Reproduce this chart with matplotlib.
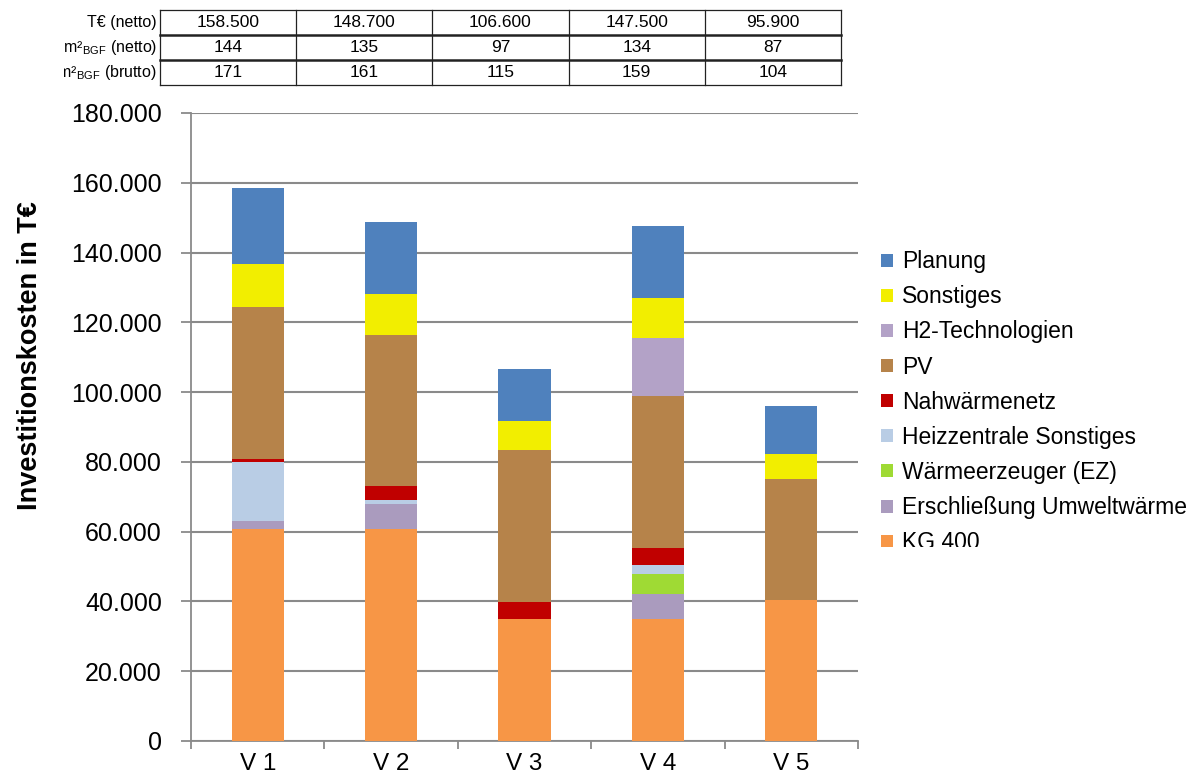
import numpy as np
import matplotlib.pyplot as plt
from matplotlib.patches import Patch, Rectangle
from matplotlib.lines import Line2D
from matplotlib.transforms import Bbox, TransformedBbox
from matplotlib.ticker import FuncFormatter, FixedLocator

plt.rcParams.update({
    'font.family': ['Liberation Sans', 'DejaVu Sans'],
    'mathtext.fontset': 'custom',
    'mathtext.rm': 'Liberation Sans',
    'mathtext.it': 'Liberation Sans:italic',
    'mathtext.bf': 'Liberation Sans:bold',
})

# --- data (T€) ---
variants = ['V 1', 'V 2', 'V 3', 'V 4', 'V 5']
kg400 = [60700, 60700, 35000, 35000, 40300]
erschliessung = [2400, 7300, 0, 7200, 0]
waermeerzeuger = [0, 0, 0, 5700, 0]
heizzentrale = [16900, 1200, 0, 2500, 0]
nahwaerme = [700, 4000, 4800, 5000, 0]
pv = [43600, 43300, 43600, 43500, 34700]
h2 = [0, 0, 0, 16700, 0]
sonstiges = [12400, 11600, 8400, 11500, 7400]
planung = [21800, 20600, 14800, 20400, 13500]

series = [
    ('KG 400', kg400, '#F79646'),
    ('Erschließung Umweltwärme', erschliessung, '#AA9BBE'),
    ('Wärmeerzeuger (EZ)', waermeerzeuger, '#9FDA34'),
    ('Heizzentrale Sonstiges', heizzentrale, '#B9CDE5'),
    ('Nahwärmenetz', nahwaerme, '#C00000'),
    ('PV', pv, '#B6834A'),
    ('H2-Technologien', h2, '#B3A2C7'),
    ('Sonstiges', sonstiges, '#F2EE00'),
    ('Planung', planung, '#4F81BD'),
]

# table above the chart
row_labels = ['T€ (netto)', '€/m²$_{\\mathrm{BGF}}$ (netto)', '€/m²$_{\\mathrm{BGF}}$ (brutto)']
row_total = ['158.500', '148.700', '106.600', '147.500', '95.900']
row_netto = ['144', '135', '97', '134', '87']
row_brutto = ['171', '161', '115', '159', '104']

W, H = 1197, 778
fig = plt.figure(figsize=(W / 100, H / 100), dpi=100)
ax = fig.add_axes([191 / W, 1 - 741 / H, (858 - 191) / W, (741 - 113) / H])

grid_c = '#8a8a8a'
x = np.arange(len(variants))
bottom = np.zeros(len(variants))
handles = []
for name, vals, col in series:
    vals = np.array(vals, dtype=float)
    ax.bar(x, vals, width=0.39, bottom=bottom, color=col, zorder=3)
    bottom += vals
    handles.append(Patch(facecolor=col, label=name))

ax.set_xlim(-0.5, len(variants) - 0.5)
ax.set_ylim(0, 180000)
ax.set_yticks(np.arange(0, 180001, 20000))
ax.yaxis.set_major_formatter(FuncFormatter(lambda v, p: f'{v:,.0f}'.replace(',', '.')))
ax.set_xticks(x)
ax.set_xticklabels(variants)
ax.xaxis.set_minor_locator(FixedLocator(np.arange(-0.5, len(variants), 1.0)))
ax.tick_params(axis='x', which='major', length=0, labelsize=17.5, pad=9)
ax.tick_params(axis='x', which='minor', length=6, width=1.3, color=grid_c)
ax.tick_params(axis='y', length=7, width=1.3, color=grid_c, labelsize=18, pad=14)
ax.grid(axis='y', color=grid_c, linewidth=1.5, zorder=0)
ax.set_axisbelow(True)
for s in ['top', 'right']:
    ax.spines[s].set_visible(False)
for s in ['left', 'bottom']:
    ax.spines[s].set_color(grid_c)
    ax.spines[s].set_linewidth(1.3)

fig.text(30 / W, 1 - 356 / H, 'Investitionskosten in T€', rotation=90,
         fontsize=19.5, fontweight='bold', ha='center', va='center')

# legend (top entry first)
leg = fig.legend(handles=handles[::-1], loc='upper left',
                 bbox_to_anchor=(872 / W, 1 - 241 / H), frameon=False,
                 fontsize=16.5, handlelength=0.5, handleheight=0.5,
                 handletextpad=0.4, labelspacing=0.53, borderaxespad=0)
# legend box clipped at the bottom like in the source
fig.add_artist(Rectangle((862 / W, 0), (W - 862) / W, 1 - 547 / H,
                         transform=fig.transFigure, facecolor='white',
                         edgecolor='none', zorder=10))

# --- table ---
col_edges = np.linspace(160, 841, 6)
row_edges = [10, 35, 60, 85]
rows = [row_total, row_netto, row_brutto]
line_c = '#222222'
for i, yy in enumerate(row_edges):
    lw = 1.8 if i in (1, 2) else 0.9
    fig.add_artist(Line2D([col_edges[0] / W, col_edges[-1] / W], [1 - yy / H] * 2,
                          transform=fig.transFigure, color=line_c, lw=lw))
for xx in col_edges:
    fig.add_artist(Line2D([xx / W] * 2, [1 - row_edges[0] / H, 1 - row_edges[-1] / H],
                          transform=fig.transFigure, color=line_c, lw=0.9))
clip = TransformedBbox(Bbox.from_extents(64 / W, 0, 1, 1), fig.transFigure)
for r, (lab, vals) in enumerate(zip(row_labels, rows)):
    yc = 1 - (row_edges[r] + row_edges[r + 1]) / 2 / H
    t = fig.text(157 / W, yc, lab, ha='right', va='center', fontsize=11.5)
    t.set_clip_box(clip)
    t.set_clip_on(True)
    for c, v in enumerate(vals):
        xc = (col_edges[c] + col_edges[c + 1]) / 2 / W
        fig.text(xc, yc, v, ha='center', va='center', fontsize=12.5)

fig.savefig('out.png', dpi=100)
